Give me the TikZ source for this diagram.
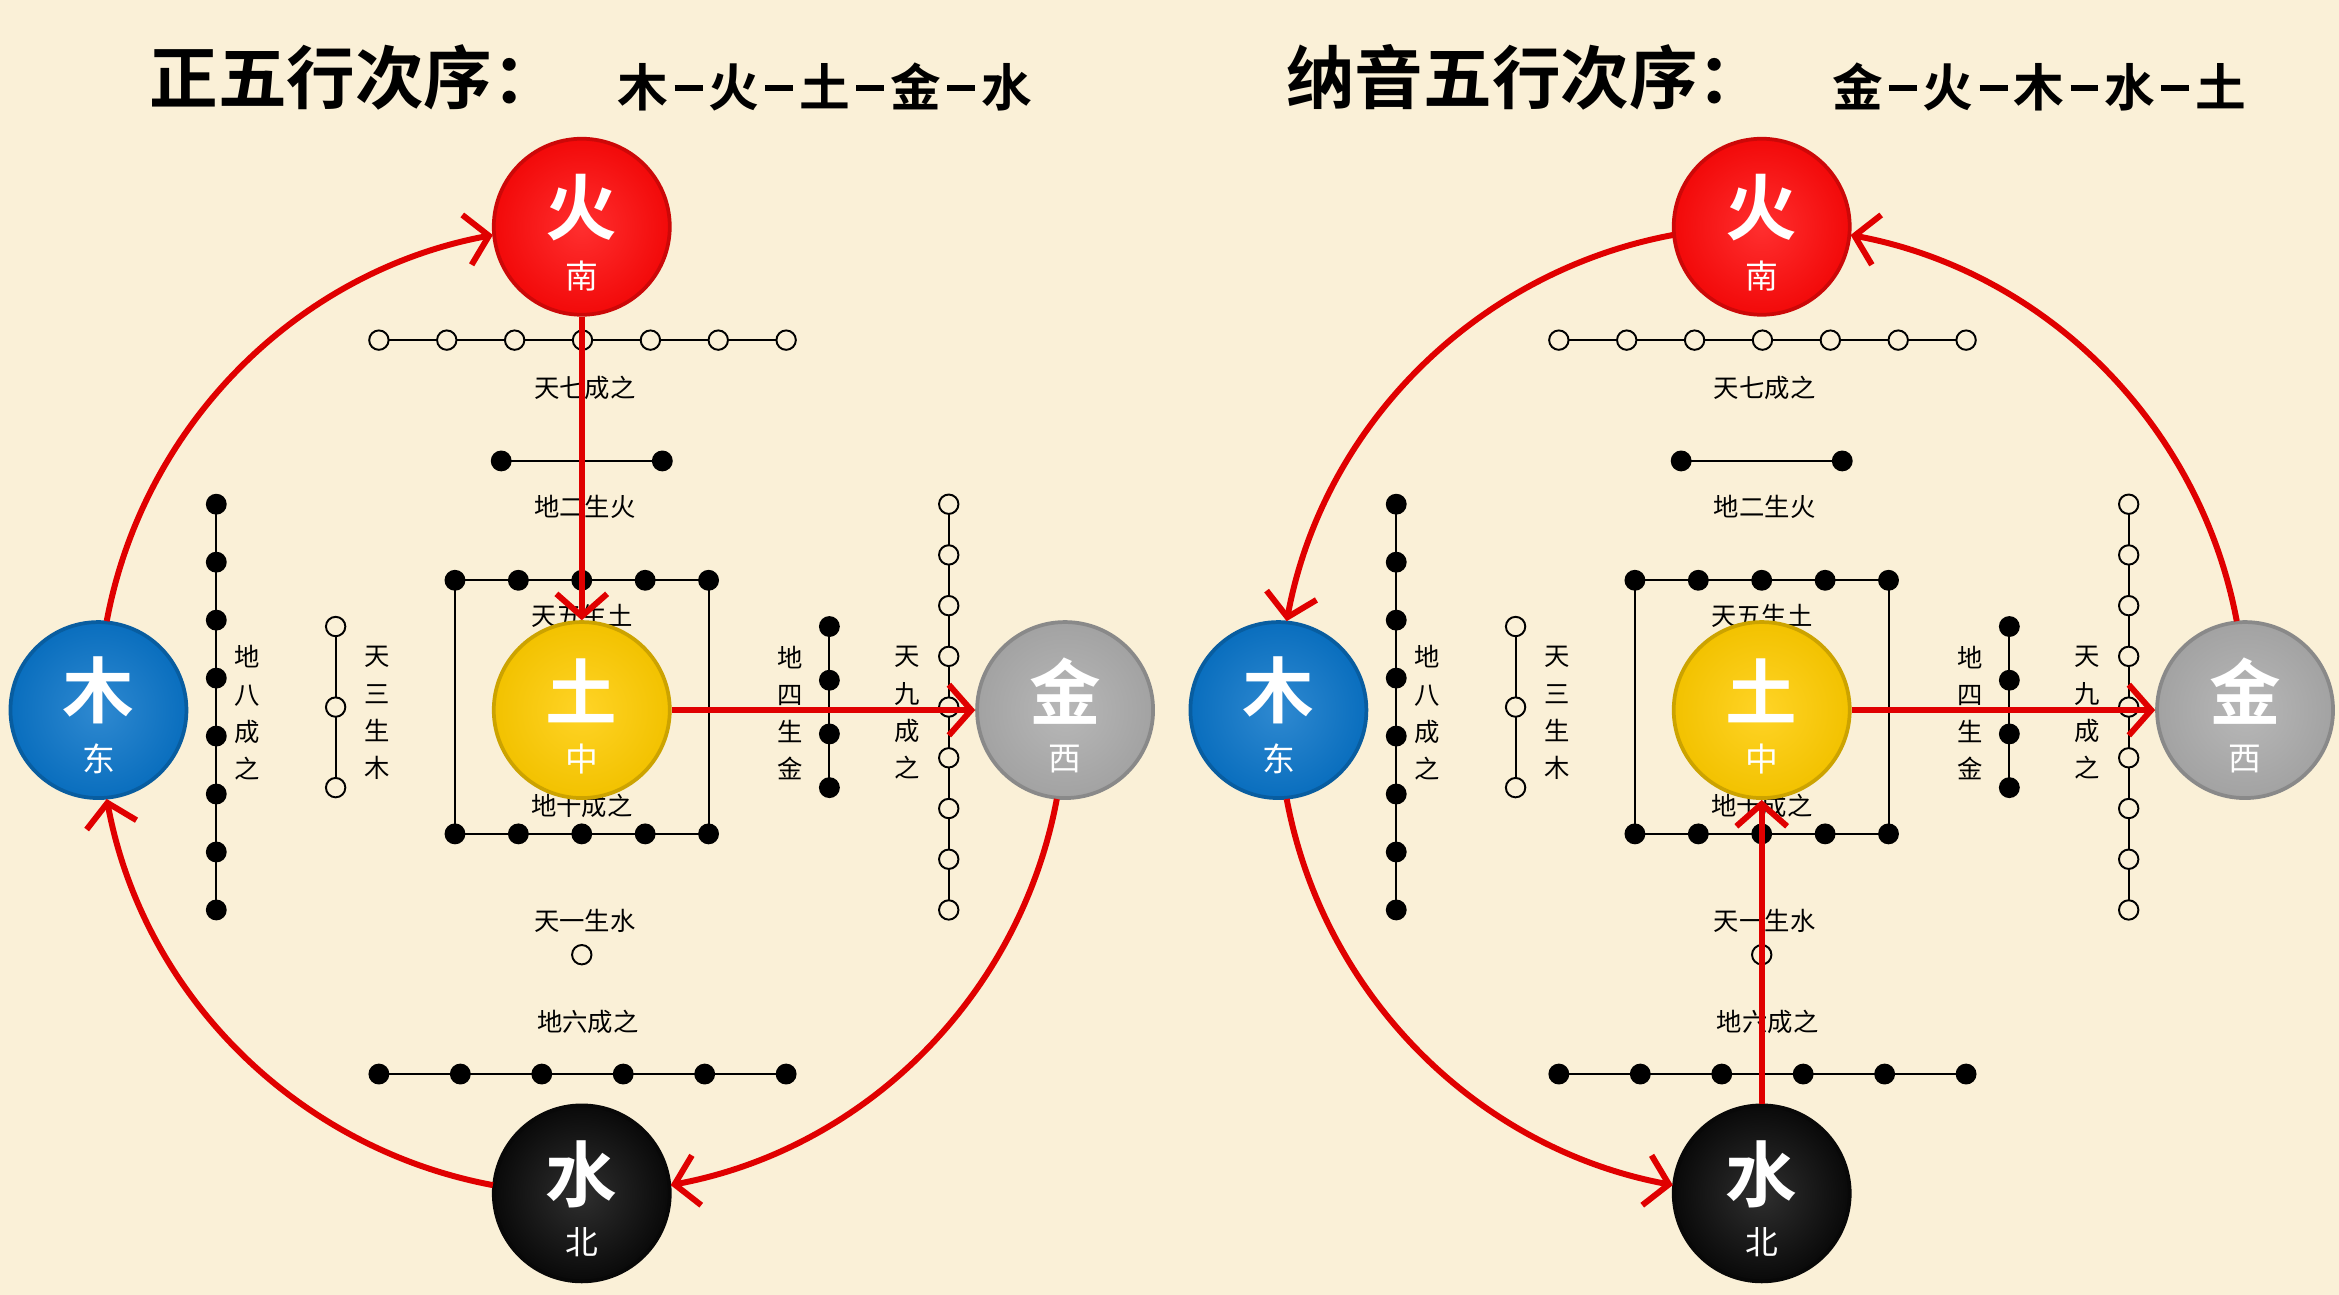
\documentclass[tikz,border=0pt]{standalone}
\usepackage{fontspec}
\setmainfont{Noto Sans CJK SC}[BoldFont={Noto Sans CJK SC Bold}]
\usetikzlibrary{arrows.meta,calc}
\definecolor{bg}{HTML}{FAF0D7}
\definecolor{arrred}{HTML}{E00000}
\definecolor{cfire}{HTML}{FF0A0A}
\definecolor{cearth}{HTML}{FFCC00}
\definecolor{cwood}{HTML}{0A74C8}
\definecolor{cmetal}{HTML}{ABABAB}
\definecolor{cwater}{HTML}{0A0A0A}
\newcommand\dsh{\hspace{0.12em}\rule[0.3em]{0.55em}{0.11em}\hspace{0.12em}}
\tikzset{
 dl/.style={line width=1.3pt},
 od/.style={fill=bg,draw=black,line width=1.3pt},
 lab/.style={font=\fontsize{17}{20}\selectfont, inner sep=0pt},
 vlab/.style={font=\fontsize{17}{25}\selectfont, align=center, inner sep=0pt},
 el/.style={circle, minimum size=118pt, inner sep=0pt, line width=2.5pt},
 big/.style={text=white, inner sep=0pt, font=\bfseries\fontsize{48}{48}\selectfont},
 small/.style={text=white, inner sep=0pt, font=\fontsize{22}{22}\selectfont},
 arr/.style={draw=arrred, line width=4pt, -{Straight Barb[length=15pt,width=34pt,line width=4pt]}},
 ttl/.style={font=\bfseries\fontsize{46}{46}\selectfont, inner sep=0pt, anchor=west},
 sub/.style={font=\bfseries\fontsize{34}{34}\selectfont, inner sep=0pt, anchor=west}
}
\newcommand\el[5]{%
 \node[el, draw=#3!80!black, inner color=#3!85!white, outer color=#3!95!black] (#1) at #2 {};
 \node[big] (#1-a) at ($(#1)+(0,-13)$) {#4};
 \node[small] (#1-b) at ($(#1)+(0,33)$) {#5};}
\newcommand\wx[1]{%
 \draw[dl] (254,228) -- (527,228);
 \foreach \i in {0,...,6} \filldraw[od] (254+45.5*\i,228) circle (6.5);
 \node[lab] (#1-t7) at (392,260) {天七成之};
 \draw[dl] (336,309) -- (444,309);
 \fill (336,309) circle (7); \fill (444,309) circle (7);
 \node[lab] (#1-d2) at (392,340) {地二生火};
 \draw[dl] (305,389) rectangle (475,559);
 \foreach \i in {0,...,4} {\fill (305+42.5*\i,389) circle (7); \fill (305+42.5*\i,559) circle (7);}
 \node[lab] (#1-t5) at (390,413) {天五生土};
 \node[lab] (#1-d10) at (390,540) {地十成之};
 \draw[dl] (145,338) -- (145,610);
 \foreach \i in {0,...,7} \fill (145,338+38.857*\i) circle (7);
 \node[vlab] (#1-d8) at (166,478) {地\\八\\成\\之};
 \draw[dl] (225,420) -- (225,528);
 \foreach \i in {0,1,2} \filldraw[od] (225,420+54*\i) circle (6.5);
 \node[vlab] (#1-t3) at (253,478) {天\\三\\生\\木};
 \draw[dl] (556,420) -- (556,528);
 \foreach \i in {0,...,3} \fill (556,420+36*\i) circle (7);
 \node[vlab] (#1-d4) at (530,478) {地\\四\\生\\金};
 \draw[dl] (636,338) -- (636,610);
 \foreach \i in {0,...,8} \filldraw[od] (636,338+34*\i) circle (6.5);
 \node[vlab] (#1-t9) at (608,478) {天\\九\\成\\之};
 \node[lab] (#1-t1) at (392,617) {天一生水};
 \filldraw[od] (390,640) circle (6.5);
 \node[lab] (#1-d6) at (394,685) {地六成之};
 \draw[dl] (254,720) -- (527,720);
 \foreach \i in {0,...,5} \fill (254+54.6*\i,720) circle (7);
 \el{#1-huo}{(390,152)}{cfire}{火}{南}
 \el{#1-mu}{(66,476)}{cwood}{木}{东}
 \el{#1-tu}{(390,476)}{cearth}{土}{中}
 \el{#1-jin}{(714,476)}{cmetal}{金}{西}
 \el{#1-shui}{(390,800)}{cwater}{水}{北}
}
\begin{document}
\begin{tikzpicture}[x=1pt,y=-1pt]
\fill[bg] (0,0) rectangle (1568,868);
\useasboundingbox (0,0) rectangle (1568,868);
\node[ttl] (t1) at (100,52) {正五行次序：};
\node[sub] (s1) at (414,58) {木\dsh 火\dsh 土\dsh 金\dsh 水};
\node[ttl] (t2) at (862,52) {纳音五行次序：};
\node[sub] (s2) at (1228,58) {金\dsh 火\dsh 木\dsh 水\dsh 土};
\begin{scope}
 \wx{L}
 \draw[arr] (L-huo.south) -- (L-tu.north);
 \draw[arr] (L-tu.east) -- (L-jin.west);
 \draw[arr] ($(L-tu)+(190.6:324)$) arc[start angle=190.6,end angle=259.4,radius=324];
 \draw[arr] ($(L-tu)+(10.6:324)$) arc[start angle=10.6,end angle=79.4,radius=324];
 \draw[arr] ($(L-tu)+(100.6:324)$) arc[start angle=100.6,end angle=169.4,radius=324];
\end{scope}
\begin{scope}[xshift=791pt]
 \wx{R}
 \draw[arr] (R-shui.north) -- (R-tu.south);
 \draw[arr] (R-tu.east) -- (R-jin.west);
 \draw[arr] ($(R-tu)+(-10.6:324)$) arc[start angle=-10.6,end angle=-79.4,radius=324];
 \draw[arr] ($(R-tu)+(259.4:324)$) arc[start angle=259.4,end angle=190.6,radius=324];
 \draw[arr] ($(R-tu)+(169.4:324)$) arc[start angle=169.4,end angle=100.6,radius=324];
\end{scope}
\end{tikzpicture}
\end{document}
